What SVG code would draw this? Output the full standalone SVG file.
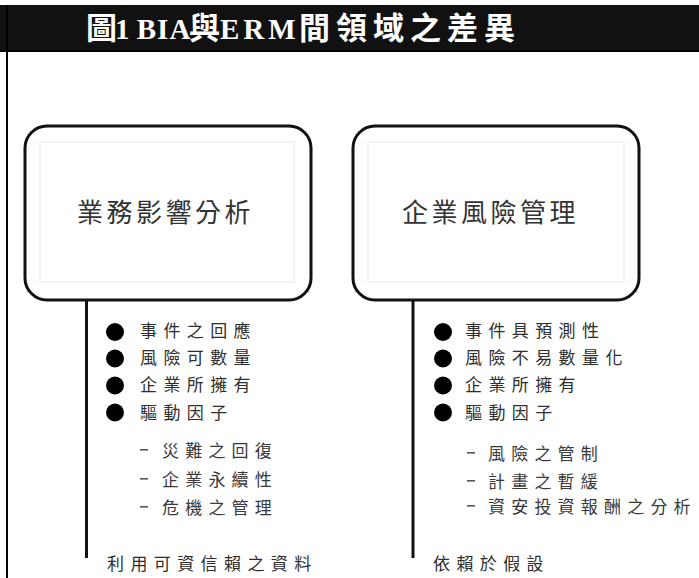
<svg xmlns="http://www.w3.org/2000/svg" width="699" height="578" viewBox="0 0 699 578">
<style>
.cjk{font-family:"Noto Sans CJK TC","Noto Sans CJK SC",sans-serif;fill:#2e2e2e}
.item{font-size:17px;letter-spacing:6.4px}
.sub{font-size:17px;letter-spacing:6.2px;fill:#3a3a3a}
.dash{fill:#555}
.box{fill:#fff;stroke:#111;stroke-width:3}
.ghost{fill:none;stroke:#f1f1f1;stroke-width:2}
.btitle{font-size:26px;letter-spacing:3.5px;fill:#333}
.conn{stroke:#111;stroke-width:3;fill:none}
.bullet{fill:#000}
.title{font-weight:bold;fill:#fff}
.tl{font-family:"Liberation Serif",serif;font-size:29px;letter-spacing:1px}
.tc{font-family:"Noto Sans CJK TC","Noto Sans CJK SC",sans-serif;font-size:31px}
</style>
<rect width="699" height="578" fill="#fff"/>
<g id="frame">
<rect x="0" y="5" width="699" height="46" fill="#111"/>
<rect x="0" y="50" width="699" height="2" fill="#000"/>
<rect x="6" y="5" width="2" height="573" fill="#000"/>
<text class="title" y="39"><tspan class="tc" x="86">圖</tspan><tspan class="tl" x="115" style="word-spacing:-2px">1 BIA</tspan><tspan class="tc" x="189">與</tspan><tspan class="tl" x="220" style="letter-spacing:4px">ERM</tspan><tspan class="tc" x="299" style="letter-spacing:6px">間領域之差異</tspan></text>
</g>
<g id="connectors">
<line class="conn" x1="86.5" y1="300" x2="86.5" y2="558"/>
<line class="conn" x1="413" y1="300" x2="413" y2="558"/>
</g>
<g id="node-bia">
<rect class="box" x="25" y="126" width="286" height="174" rx="22"/>
<rect class="ghost" x="40" y="142" width="254" height="140"/>
<text class="cjk btitle" x="77" y="222">業務影響分析</text>
</g>
<g id="node-erm">
<rect class="box" x="353" y="126" width="286" height="174" rx="22"/>
<rect class="ghost" x="368" y="142" width="256" height="140"/>
<text class="cjk btitle" x="402" y="222">企業風險管理</text>
</g>
<g id="list-bia">
<circle class="bullet" cx="115" cy="332" r="9"/>
<circle class="bullet" cx="115" cy="358.5" r="9"/>
<circle class="bullet" cx="115" cy="385.5" r="9"/>
<circle class="bullet" cx="115" cy="412.5" r="9"/>
<text class="cjk item" x="140" y="337">事件之回應</text>
<text class="cjk item" x="140" y="364">風險可數量</text>
<text class="cjk item" x="140" y="391">企業所擁有</text>
<text class="cjk item" x="140" y="419">驅動因子</text>
<rect class="dash" x="140" y="449" width="8" height="1.6"/>
<rect class="dash" x="140" y="478" width="8" height="1.6"/>
<rect class="dash" x="140" y="506" width="8" height="1.6"/>
<text class="cjk sub" x="162" y="456.5">災難之回復</text>
<text class="cjk sub" x="162" y="485.5">企業永續性</text>
<text class="cjk sub" x="162" y="514">危機之管理</text>
<text class="cjk item" x="107" y="570">利用可資信賴之資料</text>
</g>
<g id="list-erm">
<circle class="bullet" cx="443" cy="332" r="9"/>
<circle class="bullet" cx="443" cy="358.5" r="9"/>
<circle class="bullet" cx="443" cy="385.5" r="9"/>
<circle class="bullet" cx="443" cy="412.5" r="9"/>
<text class="cjk item" x="465" y="337">事件具預測性</text>
<text class="cjk item" x="465" y="364">風險不易數量化</text>
<text class="cjk item" x="465" y="391">企業所擁有</text>
<text class="cjk item" x="465" y="419">驅動因子</text>
<rect class="dash" x="467" y="452" width="8" height="1.6"/>
<rect class="dash" x="467" y="480" width="8" height="1.6"/>
<rect class="dash" x="467" y="505" width="8" height="1.6"/>
<text class="cjk sub" x="488" y="459.5">風險之管制</text>
<text class="cjk sub" x="488" y="487.5">計畫之暫緩</text>
<text class="cjk sub" x="488" y="512.5">資安投資報酬之分析</text>
<text class="cjk item" x="433" y="570">依賴於假設</text>
</g>
</svg>
